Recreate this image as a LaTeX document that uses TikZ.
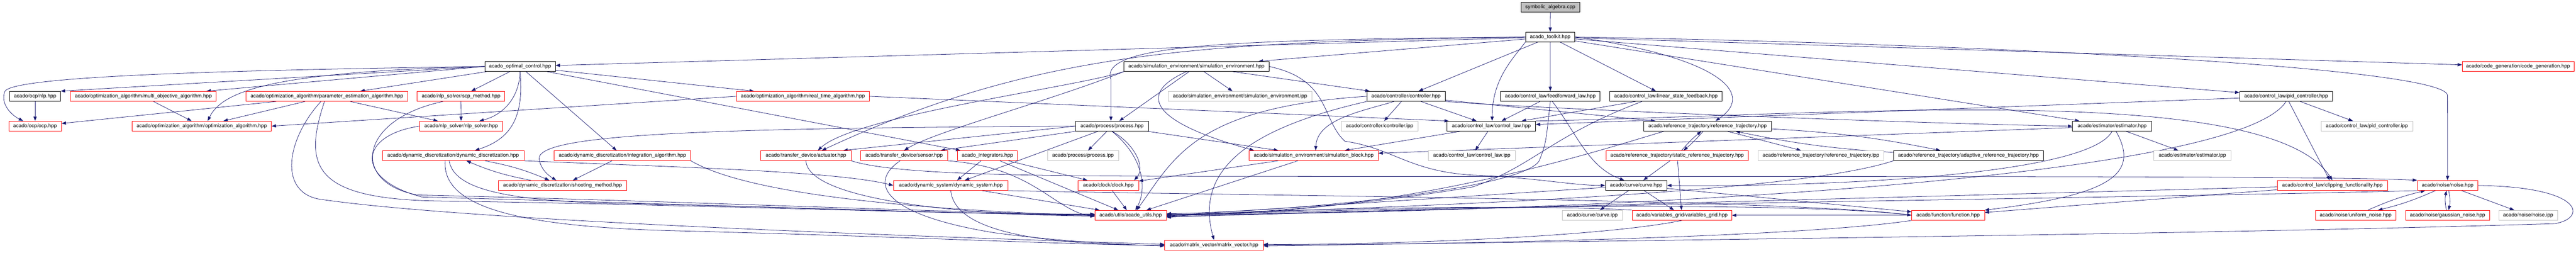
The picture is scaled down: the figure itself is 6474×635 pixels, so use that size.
\documentclass[tikz,border=0pt]{standalone}
\usepackage{fontspec}
\setmainfont{TeX Gyre Heros}
\usetikzlibrary{arrows.meta}
\definecolor{edgecol}{HTML}{191970}
\definecolor{nodegray}{HTML}{BFBFBF}
\definecolor{nodered}{HTML}{FF0000}
\pgfdeclarelayer{bg}
\pgfsetlayers{bg,main}
\begin{document}
\begin{tikzpicture}[x=1pt,y=1pt,
  box/.style={draw, line width=1pt, minimum height=25pt, inner sep=0pt, fill=white, text=black, font=\fontsize{13}{15}\selectfont},
  rd/.style={box, draw=nodered},
  bk/.style={box, draw=black},
  gy/.style={box, draw=nodegray},
  rt/.style={box, draw=black, fill=nodegray},
  edge/.style={draw=edgecol, line width=1pt, -{Triangle[length=11pt,width=8pt]}}
]
\useasboundingbox (0,0) rectangle (6474,-635);
% row 0
\node[rt, minimum width=148.3pt] (sym) at (3896.3,-18) {symbolic\_algebra.cpp};
% row 1
\node[bk, minimum width=124pt] (toolkit) at (3895.9,-93) {acado\_toolkit.hpp};
% row 2
\node[bk, minimum width=177.5pt] (optctrl) at (1307,-167) {acado\_optimal\_control.hpp};
\node[bk, minimum width=364.3pt] (simenv) at (3006.8,-167) {acado/simulation\_environment/simulation\_environment.hpp};
\node[rd, minimum width=280.6pt] (codegen) at (6328.3,-167) {acado/code\_generation/code\_generation.hpp};
% row 3
\node[bk, minimum width=127.8pt] (nlp) at (88.2,-242) {acado/ocp/nlp.hpp};
\node[rd, minimum width=366.1pt] (multiobj) at (360.2,-242) {acado/optimization\_algorithm/multi\_objective\_algorithm.hpp};
\node[rd, minimum width=405.7pt] (paramest) at (821.5,-242) {acado/optimization\_algorithm/parameter\_estimation\_algorithm.hpp};
\node[rd, minimum width=220pt] (scp) at (1158.6,-242) {acado/nlp\_solver/scp\_method.hpp};
\node[rd, minimum width=333.2pt] (realtime) at (2017.7,-242) {acado/optimization\_algorithm/real\_time\_algorithm.hpp};
\node[gy, minimum width=360pt] (simenvipp) at (3116.4,-242) {acado/simulation\_environment/simulation\_environment.ipp};
\node[bk, minimum width=196.4pt] (controller) at (3533.6,-242) {acado/controller/controller.hpp};
\node[bk, minimum width=250.4pt] (feedforward) at (3896.2,-242) {acado/control\_law/feedforward\_law.hpp};
\node[bk, minimum width=282.2pt] (linfb) at (4186.8,-242) {acado/control\_law/linear\_state\_feedback.hpp};
\node[bk, minimum width=233.5pt] (pid) at (5745.4,-242) {acado/control\_law/pid\_controller.hpp};
% row 4
\node[rd, minimum width=132.2pt] (ocp) at (88.2,-317) {acado/ocp/ocp.hpp};
\node[rd, minimum width=350.3pt] (optalg) at (507,-317) {acado/optimization\_algorithm/optimization\_algorithm.hpp};
\node[rd, minimum width=208.3pt] (nlpsolver) at (1158.8,-317) {acado/nlp\_solver/nlp\_solver.hpp};
\node[bk, minimum width=183.5pt] (process) at (2794.7,-317) {acado/process/process.hpp};
\node[gy, minimum width=192.1pt] (controlleripp) at (3467.2,-317) {acado/controller/controller.ipp};
\node[bk, minimum width=222.5pt] (controllaw) at (3748,-317) {acado/control\_law/control\_law.hpp};
\node[bk, minimum width=320pt] (reftraj) at (4291.4,-317) {acado/reference\_trajectory/reference\_trajectory.hpp};
\node[bk, minimum width=198.9pt] (estimator) at (5308,-317) {acado/estimator/estimator.hpp};
\node[gy, minimum width=230.1pt] (pidipp) at (5948.3,-317) {acado/control\_law/pid\_controller.ipp};
% row 5
\node[rd, minimum width=356.1pt] (dyndisc) at (1138.8,-391) {acado/dynamic\_discretization/dynamic\_discretization.hpp};
\node[rd, minimum width=342.8pt] (integalg) at (1564.3,-391) {acado/dynamic\_discretization/integration\_algorithm.hpp};
\node[rd, minimum width=226.8pt] (actuator) at (2025.5,-391) {acado/transfer\_device/actuator.hpp};
\node[rd, minimum width=218.5pt] (sensor) at (2272.2,-391) {acado/transfer\_device/sensor.hpp};
\node[rd, minimum width=150.4pt] (integrators) at (2481.6,-391) {acado\_integrators.hpp};
\node[gy, minimum width=179.3pt] (processipp) at (2721.8,-391) {acado/process/process.ipp};
\node[rd, minimum width=324.3pt] (simblock) at (3301.5,-391) {acado/simulation\_environment/simulation\_block.hpp};
\node[gy, minimum width=218.6pt] (controllawipp) at (3698.9,-391) {acado/control\_law/control\_law.ipp};
\node[rd, minimum width=358.6pt] (static) at (4215,-391) {acado/reference\_trajectory/static\_reference\_trajectory.hpp};
\node[gy, minimum width=316.1pt] (reftrajipp) at (4576.3,-391) {acado/reference\_trajectory/reference\_trajectory.ipp};
\node[bk, minimum width=376.1pt] (adaptive) at (4947,-391) {acado/reference\_trajectory/adaptive\_reference\_trajectory.hpp};
\node[gy, minimum width=194.6pt] (estimatoripp) at (5509.8,-391) {acado/estimator/estimator.ipp};
% row 6
\node[rd, minimum width=322.5pt] (shooting) at (1413.8,-466) {acado/dynamic\_discretization/shooting\_method.hpp};
\node[rd, minimum width=288.2pt] (dynsys) at (2389.5,-466) {acado/dynamic\_system/dynamic\_system.hpp};
\node[rd, minimum width=152.1pt] (clock) at (2785.4,-466) {acado/clock/clock.hpp};
\node[bk, minimum width=154.7pt] (curve) at (4112,-466) {acado/curve/curve.hpp};
\node[rd, minimum width=277.4pt] (clipping) at (5861.6,-466) {acado/control\_law/clipping\_functionality.hpp};
\node[rd, minimum width=151.9pt] (noise) at (6151.2,-466) {acado/noise/noise.hpp};
% row 7
\node[rd, minimum width=179.6pt] (utils) at (2841.6,-541) {acado/utils/acado\_utils.hpp};
\node[gy, minimum width=150.7pt] (curveipp) at (4001.8,-541) {acado/curve/curve.ipp};
\node[rd, minimum width=250.3pt] (vargrid) at (4227,-541) {acado/variables\_grid/variables\_grid.hpp};
\node[rd, minimum width=182.9pt] (function) at (4896,-541) {acado/function/function.hpp};
\node[rd, minimum width=203.1pt] (uniform) at (5920.2,-541) {acado/noise/uniform\_noise.hpp};
\node[rd, minimum width=210.8pt] (gaussian) at (6151,-541) {acado/noise/gaussian\_noise.hpp};
\node[gy, minimum width=148.1pt] (noiseipp) at (6353.7,-541) {acado/noise/noise.ipp};
% row 8
\node[rd, minimum width=247.9pt] (matvec) at (3051,-616) {acado/matrix\_vector/matrix\_vector.hpp};

\begin{pgfonlayer}{bg}
% root and toolkit
\draw[edge] (sym) -- (toolkit);
\draw[edge] (toolkit) -- (optctrl);
\draw[edge] (toolkit) -- (simenv);
\draw[edge] (toolkit) -- (codegen);
\draw[edge] (toolkit) -- (controller);
\draw[edge] (toolkit) -- (feedforward);
\draw[edge] (toolkit) -- (linfb);
\draw[edge] (toolkit) -- (pid);
\draw[edge] (toolkit) -- (estimator);
\draw[edge] (toolkit.east) .. controls (5000,-110) and (6151,-170) .. (6151,-240) -- (noise.north);
\draw[edge] (toolkit.east) .. controls (4300,-140) and (4420,-230) .. ([xshift=20pt]reftraj.north);
\draw[edge] (toolkit.south west) .. controls (3800,-150) and (3750,-200) .. ([xshift=2pt]controllaw.north);
\draw[edge] (toolkit.west) .. controls (3100,-100) and (2760,-110) .. (2792,-200) -- ([xshift=-2.7pt]process.north);
\draw[edge] (toolkit.west) .. controls (3000,-105) and (2600,-130) .. ([xshift=40pt]actuator.north);
% optimal control
\draw[edge] (optctrl.west) .. controls (600,-176) and (30,-190) .. (12,-230) .. controls (0,-262) and (30,-290) .. ([xshift=-30pt]ocp.north);
\draw[edge] (optctrl.west) -- (nlp.north east);
\draw[edge] (optctrl.west) -- ([xshift=-25pt]multiobj.north east);
\draw[edge] (optctrl) -- (paramest);
\draw[edge] (optctrl.west) .. controls (700,-180) and (560,-225) .. ([xshift=15pt]optalg.north);
\draw[edge] (optctrl) -- (scp);
\draw[edge] (optctrl.south) .. controls (1305,-250) and (1260,-290) .. ([xshift=46pt]nlpsolver.north);
\draw[edge] (optctrl.south) .. controls (1318,-300) and (1280,-350) .. ([xshift=55pt]dyndisc.north);
\draw[edge] (optctrl) -- (integalg);
\draw[edge] (optctrl) -- (realtime);
\draw[edge] (optctrl) -- (integrators);
% left cluster
\draw[edge] (nlp) -- (ocp);
\draw[edge] (multiobj) -- (optalg);
\draw[edge] (paramest) -- (optalg);
\draw[edge] (paramest) -- (ocp);
\draw[edge] (paramest) -- (nlpsolver);
\draw[edge] ([xshift=-6pt]paramest.south) .. controls (760,-420) and (790,-500) .. (1100,-505) .. controls (1800,-515) and (2400,-540) .. ([yshift=3pt]utils.west);
\draw[edge] ([xshift=-15pt]paramest.south) .. controls (720,-350) and (700,-480) .. (800,-500) .. controls (1200,-560) and (2500,-600) .. ([yshift=2pt]matvec.west);
\draw[edge] (scp) -- (nlpsolver);
\draw[edge] ([xshift=-45pt]scp.south) .. controls (900,-300) and (880,-460) .. (1050,-490) .. controls (1700,-505) and (2400,-535) .. ([yshift=2pt]utils.west);
\draw[edge] (nlpsolver.west) .. controls (900,-340) and (890,-450) .. (1060,-495) .. controls (1700,-512) and (2400,-538) .. ([yshift=1pt]utils.west);
\draw[edge] (realtime.west) -- (optalg.east);
\draw[edge] (realtime.east) -- ([xshift=5pt]controllaw.north west);
% discretization
\draw[edge] (dyndisc) to[bend left=6] (shooting);
\draw[edge] (shooting) to[bend left=6] (dyndisc);
\draw[edge] (integalg) -- (shooting);
\draw[edge] ([xshift=-10pt]dyndisc.south) .. controls (1140,-470) and (1250,-500) .. (1500,-510) .. controls (2000,-520) and (2500,-540) .. (utils.west);
\draw[edge] ([xshift=-20pt]dyndisc.south) .. controls (1110,-520) and (1300,-570) .. (1700,-580) .. controls (2300,-595) and (2700,-616) .. (matvec.west);
\draw[edge] (dyndisc.south east) .. controls (1700,-420) and (2100,-430) .. (dynsys.west);
\draw[edge] (integalg.south east) .. controls (1900,-500) and (2400,-530) .. ([yshift=-1pt]utils.west);
% transfer devices
\draw[edge] (actuator.south) .. controls (2030,-500) and (2400,-540) .. ([yshift=-2pt]utils.west);
\draw[edge] (actuator.south east) .. controls (2250,-440) and (2600,-442) .. (3000,-443) .. controls (4500,-445) and (5800,-440) .. (noise.north west);
\draw[edge] ([xshift=-10pt]sensor.south) .. controls (2180,-460) and (2220,-540) .. (2500,-585) .. controls (2650,-605) and (2800,-614) .. ([yshift=-2pt]matvec.west);
\draw[edge] (sensor.south east) .. controls (2600,-420) and (2650,-530) .. ([yshift=-3pt]utils.west);
% integrators and dynamic system
\draw[edge] (integrators) -- (dynsys);
\draw[edge] (integrators) -- (clock);
\draw[edge] (integrators) -- (utils);
\draw[edge] (dynsys) -- (utils);
\draw[edge] (dynsys.south) .. controls (2400,-600) and (2700,-616) .. (matvec.west);
\draw[edge] (dynsys.south east) .. controls (3000,-490) and (4500,-500) .. (function.west);
% process
\draw[edge] (process) -- (processipp);
\draw[edge] (process.south) .. controls (2850,-360) and (2880,-420) .. ([xshift=65pt]clock.north);
\draw[edge] (process.south) .. controls (2880,-400) and (2880,-480) .. ([xshift=12pt]utils.north);
\draw[edge] (process.west) .. controls (1800,-322) and (1345,-335) .. (1355,-400) .. controls (1360,-430) and (1385,-445) .. ([xshift=-16pt]shooting.north);
\draw[edge] (process.west) -- ([xshift=-20pt]actuator.north east);
\draw[edge] (process) -- (sensor);
\draw[edge] (process) -- (dynsys);
\draw[edge] (process) -- (simblock);
\draw[edge] (clock) -- (utils);
% simulation environment
\draw[edge] (simenv) -- (simenvipp);
\draw[edge] (simenv) -- (process);
\draw[edge] ([xshift=-25pt]simenv.south) .. controls (2870,-230) and (2870,-300) .. ([xshift=-150pt]simblock.north);
\draw[edge] (simenv) -- (controller);
\draw[edge] (simenv.south west) .. controls (2700,-220) and (2150,-290) .. ([xshift=30pt]actuator.north);
\draw[edge] (simenv.south west) .. controls (2650,-250) and (2350,-330) .. (sensor.north);
\draw[edge] (simenv.east) .. controls (3345,-200) and (3320,-300) .. (3380,-355) .. controls (3500,-372) and (3540,-430) .. (3700,-440) .. controls (3850,-445) and (3950,-466) .. (curve.west);
\draw[edge] (simblock) -- (clock);
\draw[edge] (simblock) -- (utils);
% controller
\draw[edge] (controller) -- (controlleripp);
\draw[edge] (controller) -- (controllaw);
\draw[edge] ([xshift=-30pt]controller.south) .. controls (3420,-280) and (3310,-300) .. ([xshift=5pt]simblock.north);
\draw[edge] (controller.south east) .. controls (3900,-275) and (4800,-310) .. (estimator.west);
\draw[edge] (controller) -- (reftraj);
\draw[edge] (controller.west) .. controls (3000,-270) and (2950,-400) .. ([xshift=15pt]utils.north);
\draw[edge] (controller.south west) .. controls (3150,-320) and (3000,-420) .. (matvec.north);
% control laws
\draw[edge] (controllaw) -- (controllawipp);
\draw[edge] (controllaw) -- (simblock);
\draw[edge] (controllaw.north east) .. controls (4600,-290) and (5700,-200) .. (clipping.north);
\draw[edge] (feedforward) -- (controllaw);
\draw[edge] ([xshift=5pt]feedforward.south) .. controls (3960,-330) and (3990,-420) .. ([xshift=-30pt]curve.north);
\draw[edge] (feedforward.south) .. controls (3885,-360) .. (3870,-400) .. controls (3850,-470) and (3300,-530) .. ([yshift=4pt]utils.east);
\draw[edge] (linfb) -- (controllaw);
\draw[edge] ([xshift=-60pt]linfb.south) .. controls (3900,-340) and (3850,-420) .. (3700,-470) .. controls (3400,-520) and (3100,-540) .. ([yshift=3pt]utils.east);
\draw[edge] (pid) -- (pidipp);
\draw[edge] (pid) -- (clipping);
\draw[edge] (pid) -- (controllaw);
\draw[edge] (pid.south) .. controls (5600,-480) and (3600,-540) .. ([yshift=2pt]utils.east);
% reference trajectories
\draw[edge] (reftraj) -- (reftrajipp);
\draw[edge] (reftraj) to[bend left=5] (static);
\draw[edge] (static) to[bend left=5] (reftraj);
\draw[edge] (reftraj) to[bend left=4] (adaptive);
\draw[edge] (adaptive) to[bend left=4] (reftraj);
\draw[edge] ([xshift=-110pt]reftraj.south) .. controls (3950,-400) and (3500,-540) .. ([yshift=1pt]utils.east);
\draw[edge] (static) -- (curve);
\draw[edge] (static) -- (vargrid);
\draw[edge] (adaptive.south west) .. controls (4500,-490) and (3500,-520) .. (utils.east);
% curve, grid, function
\draw[edge] (curve) -- (curveipp);
\draw[edge] (curve) -- (vargrid);
\draw[edge] (curve) -- (function);
\draw[edge] (curve) -- ([yshift=-1pt]utils.east);
\draw[edge] (vargrid.north west) .. controls (3900,-515) and (3300,-520) .. ([yshift=-2pt]utils.east);
\draw[edge] (vargrid.south) .. controls (4000,-600) and (3400,-616) .. ([yshift=2pt]matvec.east);
\draw[edge] (function.west) .. controls (4500,-500) and (3300,-525) .. ([yshift=-3pt]utils.east);
\draw[edge] (function.south west) .. controls (4500,-600) and (3500,-616) .. (matvec.east);
\draw[edge] (function) -- (vargrid);
% estimator
\draw[edge] (estimator) -- (estimatoripp);
\draw[edge] (estimator) -- (simblock);
\draw[edge] ([xshift=10pt]estimator.south) .. controls (5380,-440) and (5300,-490) .. (function.north east);
\draw[edge] (estimator.south) .. controls (5250,-440) and (4600,-470) .. (curve.east);
% clipping and noise
\draw[edge] (clipping) -- ([yshift=-4pt]utils.east);
\draw[edge] (clipping) -- (function);
\draw[edge] (noise) -- (noiseipp);
\draw[edge] (noise) to[bend left=12] (gaussian);
\draw[edge] (gaussian) to[bend left=12] (noise);
\draw[edge] (noise) to[bend left=5] (uniform);
\draw[edge] (uniform) to[bend left=5] (noise);
\draw[edge] (noise.east) .. controls (6500,-470) and (6500,-550) .. (6420,-562) .. controls (5500,-590) and (4000,-605) .. ([yshift=-2pt]matvec.east);
\draw[edge] (noise.south west) .. controls (5500,-495) and (3500,-520) .. ([yshift=-5pt]utils.east);
\end{pgfonlayer}
\end{tikzpicture}
\end{document}
